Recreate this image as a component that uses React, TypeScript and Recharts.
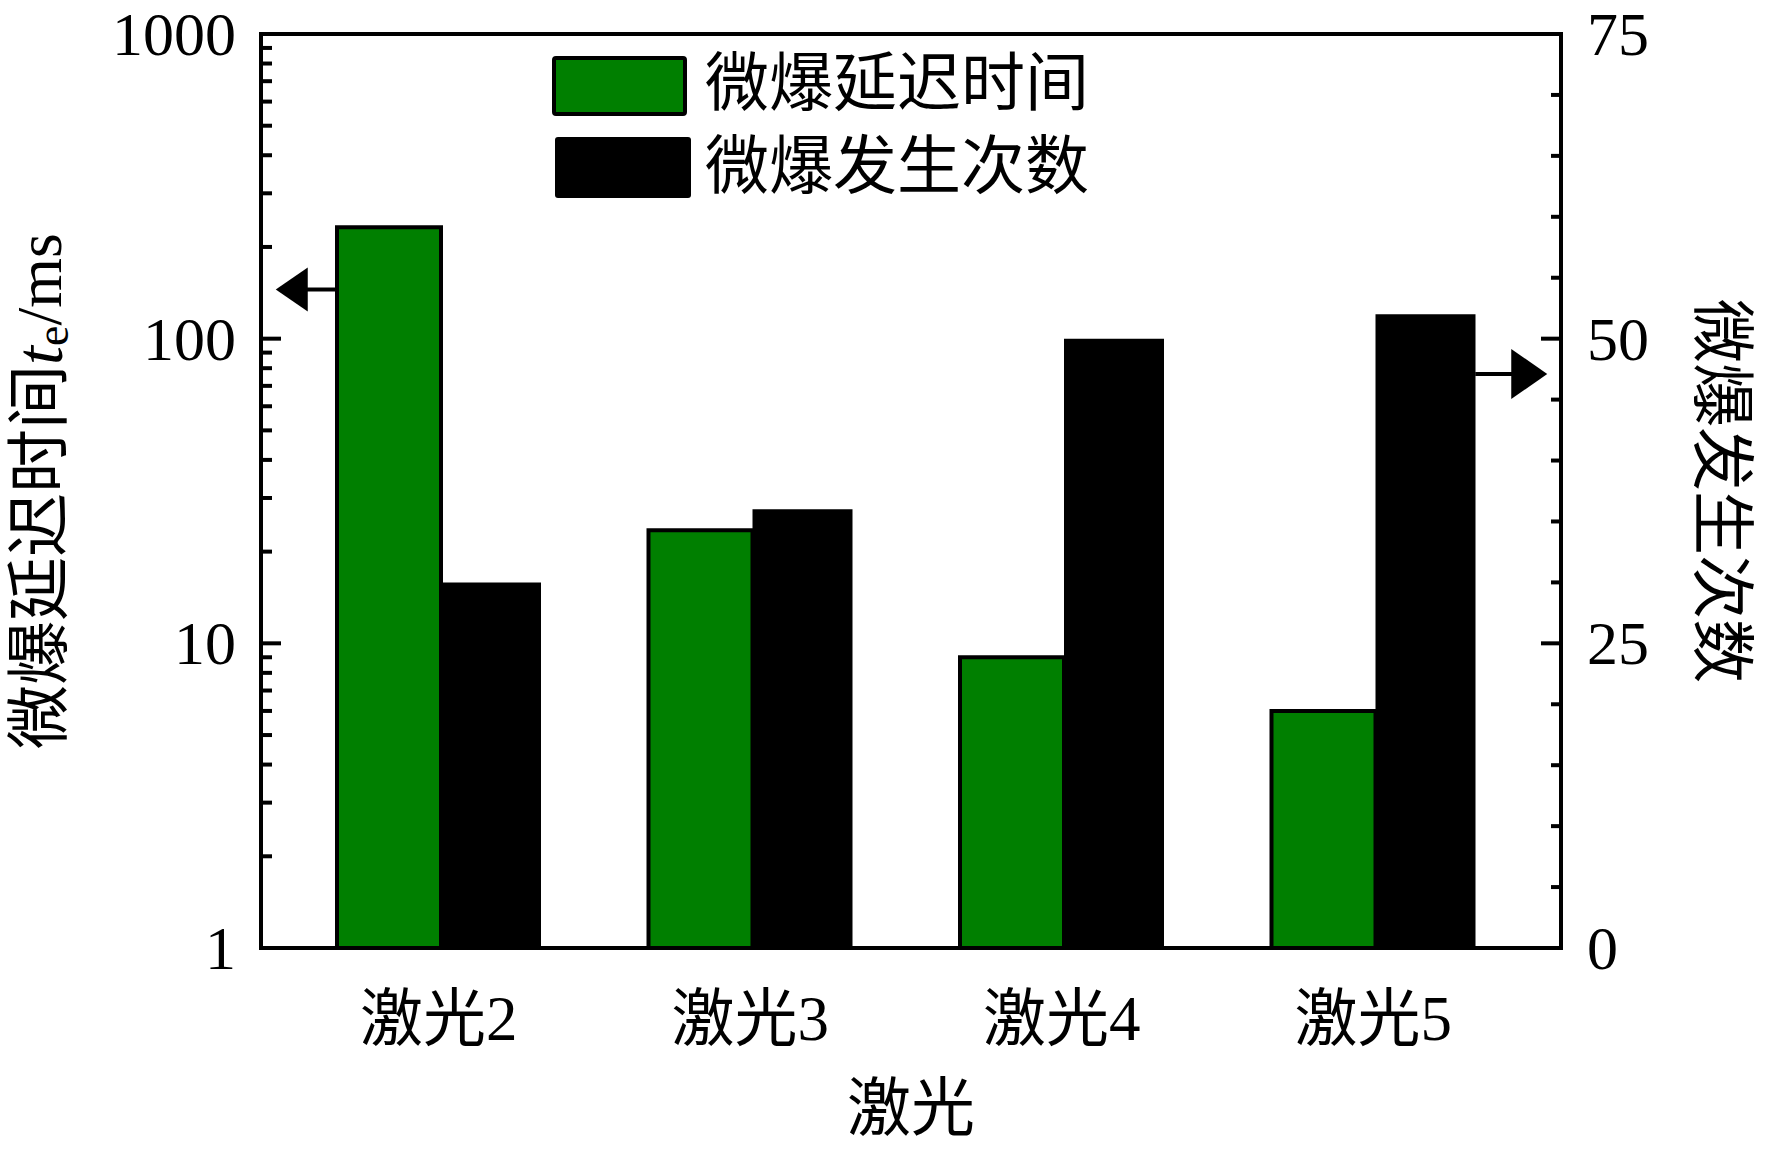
import React from "react";
import {
  BarChart,
  Bar,
  XAxis,
  YAxis,
  Legend,
  Label,
  ReferenceDot,
} from "recharts";

// lasers on the x axis
const categories = ["激光2", "激光3", "激光4", "激光5"];
// micro-explosion delay time t_e (ms), left log axis
const delayTime = [232, 23.5, 9, 6];
// micro-explosion count, right linear axis
const eventCount = [30, 36, 50, 52];

const leftMajorTicks = [1, 10, 100, 1000];
const leftTicks = [
  1, 2, 3, 4, 5, 6, 7, 8, 9,
  10, 20, 30, 40, 50, 60, 70, 80, 90,
  100, 200, 300, 400, 500, 600, 700, 800, 900,
  1000,
];
const rightMajorTicks = [0, 25, 50, 75];
const rightTicks = [0, 5, 10, 15, 20, 25, 30, 35, 40, 45, 50, 55, 60, 65, 70, 75];

const data = categories.map((name, i) => ({
  name,
  delay: delayTime[i],
  count: eventCount[i],
}));

const FONT = "'Liberation Serif', 'Times New Roman', 'Noto Sans CJK SC', serif";
const GREEN = "#007f00";
const AXIS = { stroke: "#000", strokeWidth: 4, strokeLinecap: "square" as const };

const LeftTick = (props: any) => {
  const { x, y, payload } = props;
  const major = leftMajorTicks.includes(payload.value);
  return (
    <g>
      <line x1={x} x2={x + (major ? 20 : 11)} y1={y} y2={y} stroke="#000" strokeWidth={4} />
      {major && (
        <text x={x - 25} y={y} dy="0.34em" textAnchor="end" fontSize={62} fontFamily={FONT} fill="#000">
          {payload.value}
        </text>
      )}
    </g>
  );
};

const RightTick = (props: any) => {
  const { x, y, payload } = props;
  const major = rightMajorTicks.includes(payload.value);
  return (
    <g>
      <line x1={x} x2={x - (major ? 20 : 10)} y1={y} y2={y} stroke="#000" strokeWidth={4} />
      {major && (
        <text x={x + 26} y={y} dy="0.34em" textAnchor="start" fontSize={62} fontFamily={FONT} fill="#000">
          {payload.value}
        </text>
      )}
    </g>
  );
};

const CategoryTick = (props: any) => {
  const { x, y, payload } = props;
  return (
    <text x={x} y={y + 92} textAnchor="middle" fontSize={63} fontFamily={FONT} fill="#000">
      {payload.value}
    </text>
  );
};

const LeftAxisTitle = (props: any) => {
  const { viewBox } = props;
  const cx = viewBox.x + 39;
  const cy = viewBox.y + viewBox.height / 2;
  return (
    <text
      x={cx}
      y={cy}
      transform={`rotate(-90, ${cx}, ${cy})`}
      textAnchor="middle"
      dominantBaseline="central"
      fontSize={64}
      fontFamily={FONT}
      fill="#000"
    >
      <tspan>微爆延迟时间</tspan>
      <tspan fontStyle="italic" fontSize={68}>t</tspan>
      <tspan fontSize={46} dy={13}>e</tspan>
      <tspan dy={-13}>/ms</tspan>
    </text>
  );
};

const RightAxisTitle = (props: any) => {
  const { viewBox } = props;
  const cx = viewBox.x + 160;
  const cy = viewBox.y + viewBox.height / 2;
  return (
    <text
      x={cx}
      y={cy}
      transform={`rotate(90, ${cx}, ${cy})`}
      textAnchor="middle"
      dominantBaseline="central"
      fontSize={64}
      fontFamily={FONT}
      fill="#000"
    >
      微爆发生次数
    </text>
  );
};

const BottomAxisTitle = (props: any) => {
  const { viewBox } = props;
  return (
    <text
      x={viewBox.x + viewBox.width / 2}
      y={viewBox.y + 182}
      textAnchor="middle"
      fontSize={64}
      fontFamily={FONT}
      fill="#000"
    >
      激光
    </text>
  );
};

// arrow pointing from the first green bar to the left axis
const LeftArrow = (props: any) => {
  const { cx, cy } = props;
  const x0 = cx - 103;
  return (
    <g>
      <line x1={x0} x2={x0 - 30} y1={cy} y2={cy} stroke="#000" strokeWidth={4} />
      <polygon points={`${x0 - 28},${cy - 22} ${x0 - 28},${cy + 22} ${x0 - 60},${cy}`} fill="#000" />
    </g>
  );
};

// arrow pointing from the last black bar to the right axis
const RightArrow = (props: any) => {
  const { cx, cy } = props;
  const x0 = cx + 102;
  return (
    <g>
      <line x1={x0} x2={x0 + 38} y1={cy} y2={cy} stroke="#000" strokeWidth={4} />
      <polygon points={`${x0 + 36},${cy - 25} ${x0 + 36},${cy + 25} ${x0 + 72},${cy}`} fill="#000" />
    </g>
  );
};

const LegendBox = () => (
  <svg width={640} height={170}>
    <rect x={4} y={14} width={131} height={56} rx={2} fill={GREEN} stroke="#000" strokeWidth={4} />
    <rect x={5} y={93} width={136} height={61} rx={3} fill="#000" />
    <text x={155} y={39} dominantBaseline="central" fontSize={64} fontFamily={FONT} fill="#000">
      微爆延迟时间
    </text>
    <text x={155} y={122} dominantBaseline="central" fontSize={64} fontFamily={FONT} fill="#000">
      微爆发生次数
    </text>
  </svg>
);

export default function App() {
  return (
    <div style={{ position: "absolute", left: 0, top: 0, width: 1772, height: 1152, background: "#fff" }}>
      <BarChart
        width={1772}
        height={1152}
        data={data}
        margin={{ top: 33, right: 0, bottom: 0, left: 0 }}
        barGap={0}
      >
        <XAxis
          xAxisId="bottom"
          dataKey="name"
          height={204}
          padding={{ left: 22, right: 32 }}
          interval={0}
          tickLine={false}
          tickSize={0}
          tickMargin={0}
          axisLine={AXIS}
          tick={<CategoryTick />}
        >
          <Label content={<BottomAxisTitle />} />
        </XAxis>
        <XAxis
          xAxisId="top"
          orientation="top"
          dataKey="name"
          height={1}
          tick={false}
          tickLine={false}
          axisLine={AXIS}
        />
        <YAxis
          yAxisId="left"
          scale="log"
          domain={[1, 1000]}
          allowDataOverflow
          ticks={leftTicks}
          interval={0}
          width={261}
          tickLine={false}
          tickSize={0}
          tickMargin={0}
          axisLine={AXIS}
          tick={<LeftTick />}
        >
          <Label content={<LeftAxisTitle />} />
        </YAxis>
        <YAxis
          yAxisId="right"
          orientation="right"
          domain={[0, 75]}
          allowDataOverflow
          ticks={rightTicks}
          interval={0}
          width={211}
          tickLine={false}
          tickSize={0}
          tickMargin={0}
          axisLine={AXIS}
          tick={<RightTick />}
        >
          <Label content={<RightAxisTitle />} />
        </YAxis>
        <Legend
          layout="horizontal"
          verticalAlign="middle"
          align="center"
          wrapperStyle={{ left: 550, top: 44, width: 640, height: 170 }}
          content={<LegendBox />}
        />
        <Bar
          xAxisId="bottom"
          yAxisId="left"
          dataKey="delay"
          fill={GREEN}
          stroke="#000"
          strokeWidth={4}
          barSize={104}
          isAnimationActive={false}
        />
        <Bar
          xAxisId="bottom"
          yAxisId="right"
          dataKey="count"
          fill="#000"
          barSize={100}
          isAnimationActive={false}
        />
        <ReferenceDot
          xAxisId="bottom"
          yAxisId="left"
          x="激光2"
          y={145}
          ifOverflow="visible"
          shape={<LeftArrow />}
        />
        <ReferenceDot
          xAxisId="bottom"
          yAxisId="right"
          x="激光5"
          y={47.1}
          ifOverflow="visible"
          shape={<RightArrow />}
        />
      </BarChart>
    </div>
  );
}
